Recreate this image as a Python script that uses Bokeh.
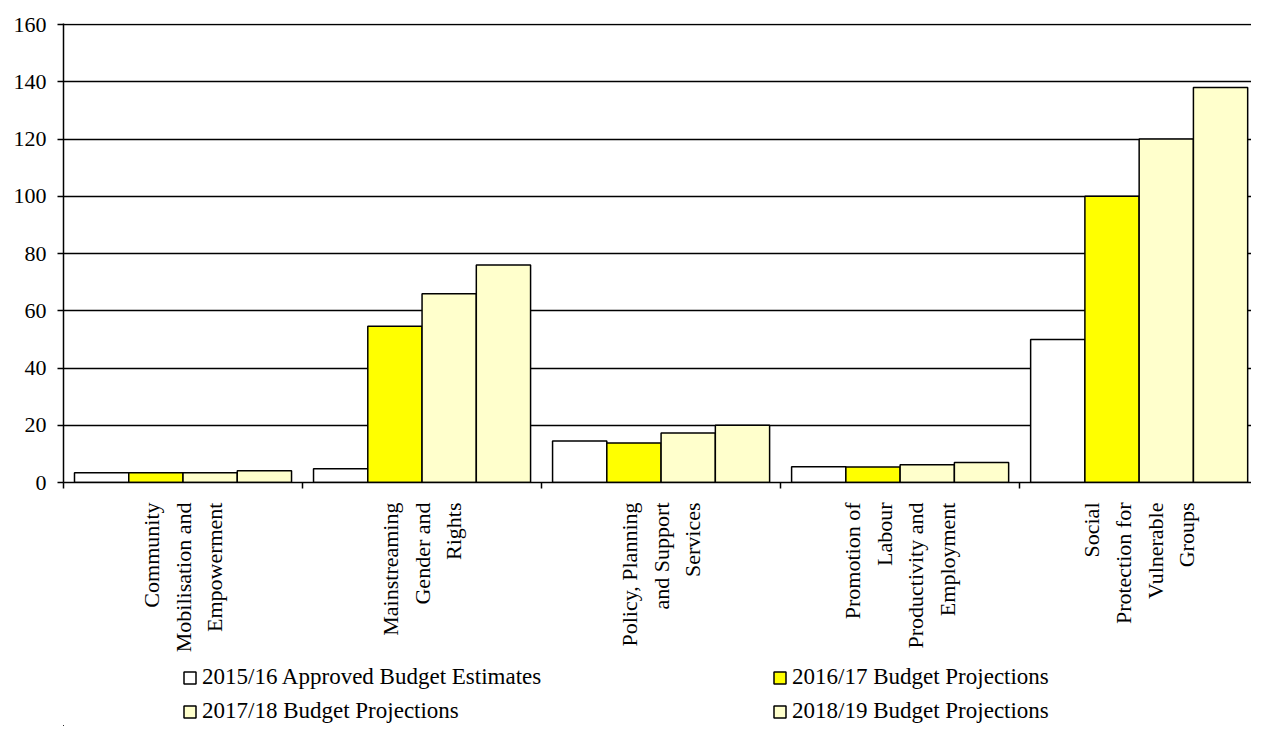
import math
from bokeh.plotting import figure
from bokeh.layouts import column
from bokeh.models import (ColumnDataSource, FixedTicker, Legend, LegendItem, Range1d, LinearAxis, Grid)
from bokeh.transform import dodge
from bokeh.embed import file_html
from bokeh.resources import INLINE

categories = [
    "Community\nMobilisation and\nEmpowerment",
    "Mainstreaming\nGender and\nRights",
    "Policy, Planning\nand Support\nServices",
    "Promotion of\nLabour\nProductivity and\nEmployment",
    "Social\nProtection for\nVulnerable\nGroups",
]
series_names = [
    "2015/16 Approved Budget Estimates",
    "2016/17 Budget Projections",
    "2017/18 Budget Projections",
    "2018/19 Budget Projections",
]
v_2015 = [3.4, 4.8, 14.5, 5.5, 50.0]
v_2016 = [3.4, 54.6, 13.8, 5.4, 100.0]
v_2017 = [3.4, 66.0, 17.3, 6.2, 120.0]
v_2018 = [4.1, 76.0, 20.0, 7.0, 138.0]
y_ticks = [0, 20, 40, 60, 80, 100, 120, 140, 160]

colors = ["#FFFFFF", "#FFFF00", "#FFFFCC", "#FFFFCC"]
FONT = "Liberation Serif"

xs = list(range(len(categories)))
source = ColumnDataSource(dict(x=xs, a=v_2015, b=v_2016, c=v_2017, d=v_2018))
cols = ["a", "b", "c", "d"]

p = figure(width=1251, height=660, output_backend="svg", toolbar_location=None,
           x_range=Range1d(-0.5, len(categories) - 0.53), y_range=Range1d(0, 160.4),
           x_axis_type=None, y_axis_type=None)
p.min_border_left = 63
p.min_border_right = 0
p.min_border_top = 23
p.min_border_bottom = 178
p.outline_line_color = None
p.background_fill_color = "white"
p.border_fill_color = "white"

# y axis
yax = LinearAxis(ticker=FixedTicker(ticks=y_ticks))
yax.axis_line_color = "black"
yax.axis_line_width = 1.5
yax.major_tick_line_color = "black"
yax.major_tick_line_width = 1.5
yax.major_tick_out = 6
yax.major_tick_in = 0
yax.minor_tick_line_color = None
yax.major_label_standoff = 11
yax.major_label_text_font = FONT
yax.major_label_text_font_size = "22px"
yax.major_label_text_color = "black"
p.add_layout(yax, "left")

# x axis: labels at group centres, ticks at group boundaries
xax = LinearAxis(ticker=FixedTicker(ticks=xs, minor_ticks=[i - 0.5 for i in range(len(categories) + 1)]))
xax.major_label_overrides = {i: c for i, c in zip(xs, categories)}
xax.axis_line_color = "black"
xax.axis_line_width = 1.5
xax.major_tick_line_color = None
xax.major_tick_out = 0
xax.major_tick_in = 0
xax.minor_tick_line_color = "black"
xax.minor_tick_line_width = 1.5
xax.minor_tick_out = 6
xax.minor_tick_in = 0
xax.major_label_orientation = math.pi / 2
xax.major_label_standoff = 14
xax.major_label_text_font = FONT
xax.major_label_text_font_size = "22px"
xax.major_label_text_line_height = 1.27
xax.major_label_text_color = "black"
p.add_layout(xax, "below")

# horizontal gridlines
grid = Grid(dimension=1, ticker=yax.ticker, grid_line_color="black", grid_line_width=1.5)
p.add_layout(grid)

bw = 0.227
offsets = [-1.5 * bw, -0.5 * bw, 0.5 * bw, 1.5 * bw]
for col, off, color in zip(cols, offsets, colors):
    p.vbar(x=dodge("x", off), top=col, width=bw, bottom=0, source=source,
           fill_color=color, line_color="black", line_width=1.5)

# legend strip below the chart (its view ranges hold no bars, only the legend)
lg = figure(width=1251, height=66, output_backend="svg", toolbar_location=None,
            x_range=Range1d(1000, 1001), y_range=Range1d(1000, 1001),
            x_axis_type=None, y_axis_type=None)
lg.min_border_left = 0
lg.min_border_right = 0
lg.min_border_top = 0
lg.min_border_bottom = 0
lg.outline_line_color = None
lg.xgrid.visible = False
lg.ygrid.visible = False

leg_renderers = []
for col, color in zip(cols, colors):
    r = lg.vbar(x="x", top=col, width=0.1, bottom=0, source=source,
                fill_color=color, line_color="black", line_width=1.5)
    leg_renderers.append(r)

items = [LegendItem(label=n, renderers=[r]) for n, r in zip(series_names, leg_renderers)]
legend = Legend(items=items, location=(119, -2), orientation="horizontal", ncols=2)
legend.glyph_width = 15
legend.glyph_height = 15
legend.label_standoff = 5
legend.label_width = 570
legend.label_height = 34
legend.spacing = 0
legend.padding = 0
legend.margin = 0
legend.border_line_color = None
legend.background_fill_alpha = 0
legend.label_text_font = FONT
legend.label_text_font_size = "23px"
legend.label_text_baseline = "middle"
legend.label_text_color = "black"
lg.add_layout(legend, "center")

layout = column(p, lg, spacing=0)
open("out.html", "w").write(file_html(layout, INLINE))
